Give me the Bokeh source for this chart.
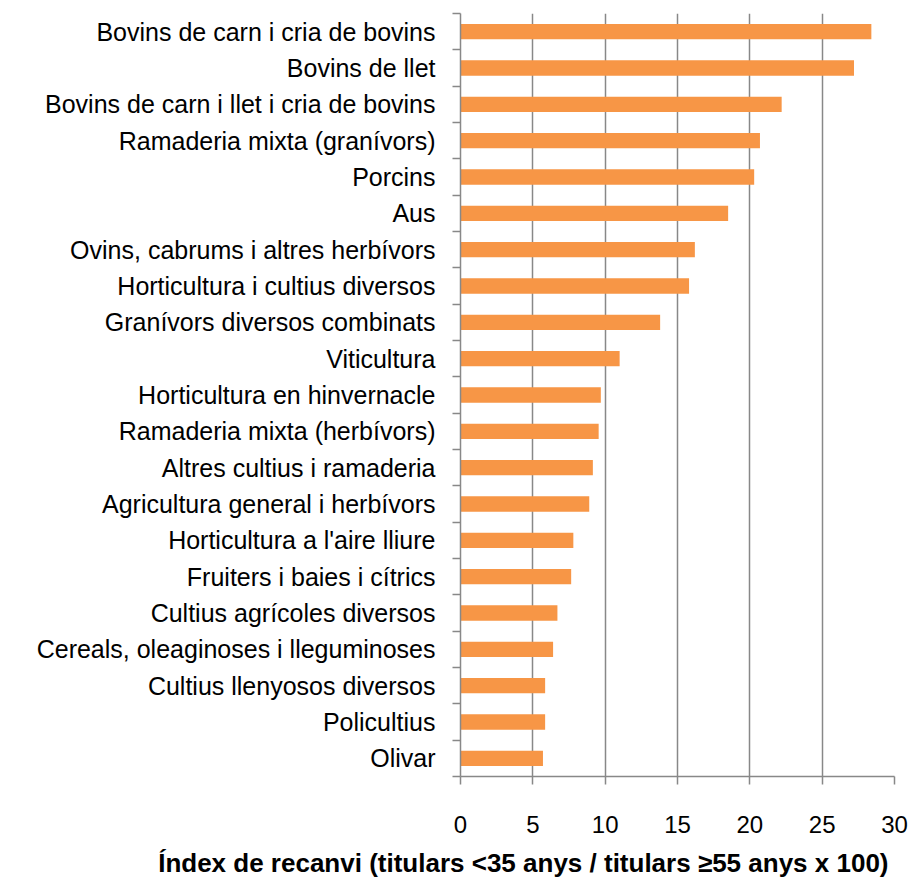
from bokeh.plotting import figure
from bokeh.models import FixedTicker, Range1d, Title, ColumnDataSource
from bokeh.embed import file_html
from bokeh.resources import INLINE

categories = [
    "Bovins de carn i cria de bovins",
    "Bovins de llet",
    "Bovins de carn i llet i cria de bovins",
    "Ramaderia mixta (granívors)",
    "Porcins",
    "Aus",
    "Ovins, cabrums i altres herbívors",
    "Horticultura i cultius diversos",
    "Granívors diversos combinats",
    "Viticultura",
    "Horticultura en hinvernacle",
    "Ramaderia mixta (herbívors)",
    "Altres cultius i ramaderia",
    "Agricultura general i herbívors",
    "Horticultura a l'aire lliure",
    "Fruiters i baies i cítrics",
    "Cultius agrícoles diversos",
    "Cereals, oleaginoses i lleguminoses",
    "Cultius llenyosos diversos",
    "Policultius",
    "Olivar",
]
values = [28.4, 27.2, 22.2, 20.7, 20.3, 18.5, 16.2, 15.8, 13.8, 11.0, 9.7,
          9.55, 9.15, 8.9, 7.8, 7.65, 6.7, 6.4, 5.85, 5.85, 5.7]
xticks = [0, 5, 10, 15, 20, 25, 30]
x_title = "Índex de recanvi (titulars <35 anys / titulars ≥55 anys x 100)"

n = len(categories)
ypos = [n - 1 - i for i in range(n)]
src = ColumnDataSource(dict(y=ypos, v=values, name=categories))

GRAY = "#888888"
FONT = "Liberation Sans"

p = figure(width=908, height=888, output_backend="svg", toolbar_location=None,
           x_range=Range1d(0, 30), y_range=Range1d(-0.5, n - 0.5),
           min_border_left=460, min_border_right=14, min_border_top=13,
           min_border_bottom=108)
p.outline_line_color = None
p.background_fill_color = "white"

p.hbar(y="y", right="v", left=0, height=0.42, source=src,
       fill_color="#F79646", line_color=None)

# x axis
xa = p.xaxis[0]
xa.ticker = FixedTicker(ticks=xticks)
xa.major_tick_out = 8
xa.major_tick_in = 0
xa.minor_tick_out = 0
xa.minor_tick_in = 0
xa.axis_line_color = GRAY
xa.axis_line_width = 1.5
xa.major_tick_line_color = GRAY
xa.major_tick_line_width = 1.5
xa.major_label_text_font = FONT
xa.major_label_text_font_size = "24px"
xa.major_label_text_color = "black"
xa.major_label_standoff = 31

# y axis
ya = p.yaxis[0]
ya.ticker = FixedTicker(ticks=ypos, minor_ticks=[k - 0.5 for k in range(n + 1)])
ya.major_label_overrides = {y: c for y, c in zip(ypos, categories)}
ya.major_tick_out = 0
ya.major_tick_in = 0
ya.minor_tick_out = 8
ya.minor_tick_in = 0
ya.minor_tick_line_color = GRAY
ya.minor_tick_line_width = 1.5
ya.axis_line_color = GRAY
ya.axis_line_width = 1.5
ya.major_label_text_font = FONT
ya.major_label_text_font_size = "25px"
ya.major_label_text_color = "black"
ya.major_label_standoff = 17

p.ygrid.grid_line_color = None
p.xgrid.ticker = FixedTicker(ticks=xticks)
p.xgrid.grid_line_color = GRAY
p.xgrid.grid_line_width = 1.5

t = Title(text=x_title, align="right", offset=6, text_font=FONT,
          text_font_size="26px", text_font_style="bold", text_color="black",
          standoff=21)
p.add_layout(t, "below")

open("out.html", "w").write(file_html(p, INLINE))
